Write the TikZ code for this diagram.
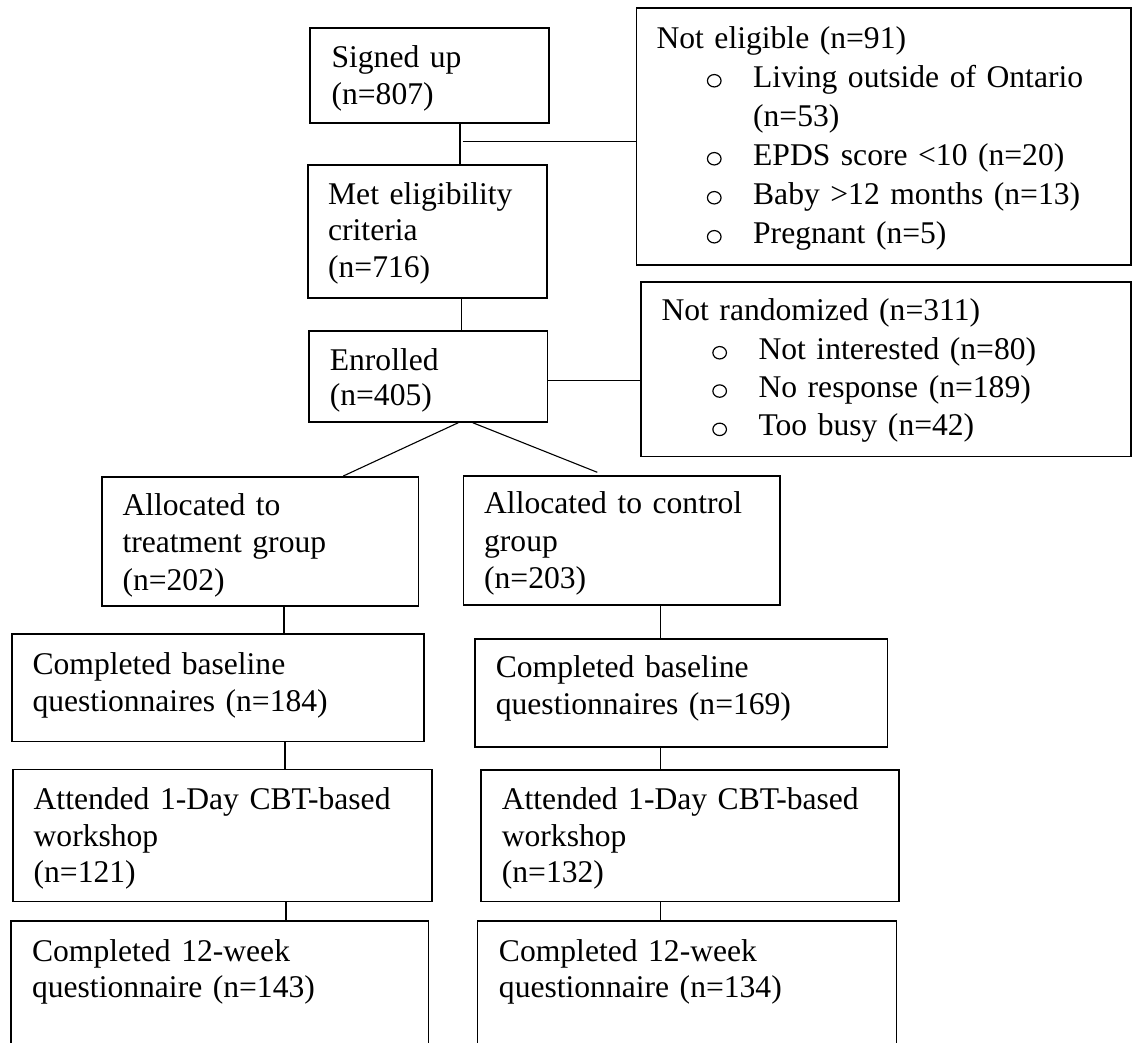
\documentclass[tikz,border=0pt]{standalone}
\usepackage{fontspec}
\setmainfont{Liberation Serif}
\setlength{\parindent}{0pt}
\newcommand{\hstr}[1]{\rule{0pt}{#1}}
\newcommand{\dstr}[1]{\rule[-#1]{0pt}{#1}}
\newcommand{\opencirc}{\tikz[baseline=0pt,x=1pt,y=1pt]\draw[line width=1.2pt] (0,6.4) ellipse (6.8 and 6.2);}
\newcommand{\blt}[3]{\makebox[#2][l]{\hspace*{#1}\opencirc}#3}
\begin{document}
\begin{tikzpicture}[x=1pt,y=-1pt,
  flowbox/.style={draw, line width=1.7pt, anchor=north west, inner ysep=0pt,
    align=left, font={\fontsize{31.6pt}{#1}\selectfont}},
  conn/.style={draw, line width=1.1pt}]
\useasboundingbox (0,0) rectangle (1132,1042);
\clip (0,0) rectangle (1132,1042);

% top column
\node[flowbox=36.6pt, inner xsep=21.7pt, text width=195.6pt] (signed) at (309,27.3)
  {\hstr{39.4pt}Signed up\\(n=807)\dstr{19pt}};
\node[flowbox=36.8pt, inner xsep=20pt, text width=198.7pt] (met) at (307.3,164)
  {\hstr{39.3pt}Met eligibility\\criteria\\(n=716)\dstr{20.4pt}};
\node[flowbox=35.6pt, inner xsep=21pt, text width=196.7pt] (enrolled) at (308,330)
  {\hstr{39.3pt}Enrolled\\(n=405)\dstr{16.1pt}};

% exclusion boxes
\node[flowbox=39pt, inner xsep=20pt, text width=454.3pt] (noteligible) at (635.7,7.3)
  {\hstr{40pt}Not eligible (n=91)\\
   \blt{50.3pt}{96.6pt}{Living outside of Ontario}\\
   \hspace*{96.6pt}(n=53)\\
   \blt{50.3pt}{96.6pt}{EPDS score <10 (n=20)}\\
   \blt{50.3pt}{96.6pt}{Baby >12 months (n=13)}\\
   \blt{50.3pt}{96.6pt}{Pregnant (n=5)}\dstr{22pt}};
\node[flowbox=38.3pt, inner xsep=20.7pt, text width=448.6pt] (notrand) at (640,281)
  {\hstr{39pt}Not randomized (n=311)\\
   \blt{50.7pt}{97pt}{Not interested (n=80)}\\
   \blt{50.7pt}{97pt}{No response (n=189)}\\
   \blt{50.7pt}{97pt}{Too busy (n=42)}\dstr{20.8pt}};

% treatment column
\node[flowbox=37.6pt, inner xsep=20.7pt, text width=275.3pt] (treat) at (101,476)
  {\hstr{38.5pt}Allocated to\\treatment group\\(n=202)\dstr{15.3pt}};
\node[flowbox=37pt, inner xsep=20.7pt, text width=370.9pt] (base1) at (11,633.3)
  {\hstr{40pt}Completed baseline\\questionnaires (n=184)\dstr{30.4pt}};
\node[flowbox=36.7pt, inner xsep=20.5pt, text width=377.7pt] (att1) at (12.3,768.7)
  {\hstr{40pt}Attended 1-Day CBT-based\\workshop\\(n=121)\dstr{18.6pt}};
\node[flowbox=36.7pt, inner xsep=21.2pt, text width=375.3pt] (wk1) at (10,920)
  {\hstr{40.3pt}Completed 12-week\\questionnaire (n=143)\dstr{63pt}};

% control column
\node[flowbox=37.5pt, inner xsep=20.8pt, text width=275.2pt] (ctrl) at (462.5,475.3)
  {\hstr{37.7pt}Allocated to control\\group\\(n=203)\dstr{16pt}};
\node[flowbox=37.5pt, inner xsep=20.7pt, text width=371pt] (base2) at (474.3,638.3)
  {\hstr{38.2pt}Completed baseline\\questionnaires (n=169)\dstr{32pt}};
\node[flowbox=36.7pt, inner xsep=21pt, text width=376.3pt] (att2) at (480,769.3)
  {\hstr{39.4pt}Attended 1-Day CBT-based\\workshop\\(n=132)\dstr{18.6pt}};
\node[flowbox=36.7pt, inner xsep=21.4pt, text width=376.2pt] (wk2) at (476.7,920)
  {\hstr{40.3pt}Completed 12-week\\questionnaire (n=134)\dstr{63pt}};

% connectors
\coordinate (c1) at (460,0);
\draw[conn] (signed.south -| c1) -- (met.north -| c1);
\coordinate (h1) at (462.7,141.7);
\draw[conn] (h1) -- (h1 -| noteligible.west);
\coordinate (c2) at (461.7,0);
\draw[conn] (met.south -| c2) -- (enrolled.north -| c2);
\coordinate (h2) at (0,380.3);
\draw[conn] (enrolled.east |- h2) -- (notrand.west |- h2);
\coordinate (d1) at (458.3,0);
\coordinate (d2) at (343.3,0);
\draw[conn] (enrolled.south -| d1) -- (treat.north -| d2);
\coordinate (d3) at (472.7,0);
\coordinate (d4) at (597.3,472.3);
\draw[conn] (enrolled.south -| d3) -- (d4);

\coordinate (c3) at (284,0);
\coordinate (c4) at (285,0);
\coordinate (c5) at (286,0);
\draw[conn] (treat.south -| c3) -- (base1.north -| c3);
\draw[conn] (base1.south -| c4) -- (att1.north -| c4);
\draw[conn] (att1.south -| c5) -- (wk1.north -| c5);

\coordinate (c6) at (660.7,0);
\draw[conn] (ctrl.south -| c6) -- (base2.north -| c6);
\draw[conn] (base2.south -| c6) -- (att2.north -| c6);
\draw[conn] (att2.south -| c6) -- (wk2.north -| c6);
\end{tikzpicture}
\end{document}
